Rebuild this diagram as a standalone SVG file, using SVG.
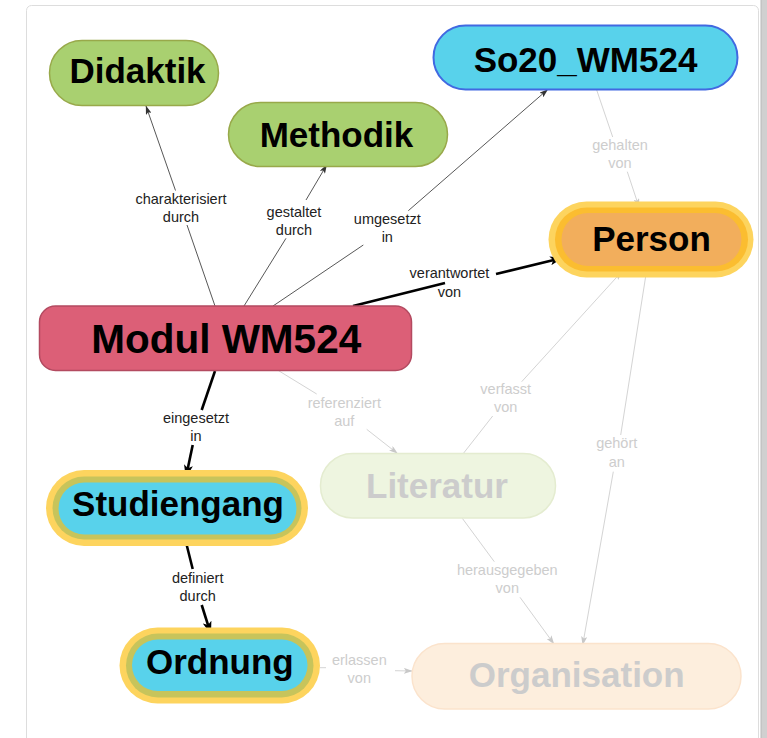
<svg xmlns="http://www.w3.org/2000/svg" width="767" height="738" viewBox="0 0 767 738">
<style>
.nt{font-family:"Liberation Sans",Arial,sans-serif;font-weight:bold;font-size:35px;text-anchor:middle;fill:#000}
.nf{fill:#cccccc}
.lb{font-family:"Liberation Sans",Arial,sans-serif;font-size:14.5px;text-anchor:middle;fill:#222}
.lf{fill:#cdcdcd}
.thin{stroke:#444;stroke-width:0.9;fill:none}
.bold{stroke:#000;stroke-width:2.6;fill:none}
.faint{stroke:#d4d4d4;stroke-width:1;fill:none}
</style>
<defs>
<marker id="aThin" markerUnits="userSpaceOnUse" markerWidth="9" markerHeight="6" viewBox="0 0 9 6" refX="8.5" refY="3" orient="auto"><path d="M0,0 L9,3 L0,6 L2,3 z" fill="#333"/></marker>
<marker id="aBold" markerUnits="userSpaceOnUse" markerWidth="13" markerHeight="9" viewBox="0 0 13 9" refX="12" refY="4.5" orient="auto"><path d="M0,0 L13,4.5 L0,9 L3,4.5 z" fill="#000"/></marker>
<marker id="aFaint" markerUnits="userSpaceOnUse" markerWidth="9" markerHeight="6" viewBox="0 0 9 6" refX="8.5" refY="3" orient="auto"><path d="M0,0 L9,3 L0,6 L2,3 z" fill="#c8c8c8"/></marker>
</defs>
<rect x="0" y="0" width="767" height="738" fill="#ffffff"/>
<rect x="26.5" y="5.5" width="732" height="745" rx="5" fill="#ffffff" stroke="#dddddd" stroke-width="1"/>
<rect x="761" y="0" width="6" height="738" fill="#d0d0d0"/>
<line x1="761" y1="0" x2="761" y2="738" stroke="#b8b8b8" stroke-width="1"/>

<g id="connectors">
  <path class="thin" d="M215,306 L187,225"/>
  <path class="thin" d="M175.5,190.5 L146,106" marker-end="url(#aThin)"/>
  <path class="thin" d="M244,306 L286,238.3"/>
  <path class="thin" d="M306,200 L326.7,165" marker-end="url(#aThin)"/>
  <path class="thin" d="M273,306 L363.3,245"/>
  <path class="thin" d="M408.3,210.7 L547.7,89.5" marker-end="url(#aThin)"/>
  <path class="bold" d="M353,306 L445,283"/>
  <path class="bold" d="M496,274 L562,258" marker-end="url(#aBold)"/>
  <path class="bold" d="M215,371 L201.7,410"/>
  <path class="bold" d="M192.7,445 L186,477" marker-end="url(#aBold)"/>
  <path class="bold" d="M185.7,541 L192.7,569"/>
  <path class="bold" d="M201.7,605 L210.7,633.5" marker-end="url(#aBold)"/>
  <path class="faint" d="M278.3,370.5 L316.7,394"/>
  <path class="faint" d="M366.7,429.3 L397.5,453.5" marker-end="url(#aFaint)"/>
  <path class="faint" d="M463.3,453.5 L492.7,416"/>
  <path class="faint" d="M521.7,381.7 L621.7,271.7" marker-end="url(#aFaint)"/>
  <path class="faint" d="M647,268 L620.7,435"/>
  <path class="faint" d="M613.3,471.7 L582.7,645" marker-end="url(#aFaint)"/>
  <path class="faint" d="M462.3,518.3 L494.3,561.7"/>
  <path class="faint" d="M520,597.3 L554,644" marker-end="url(#aFaint)"/>
  <path class="faint" d="M596.7,90 L612.7,137"/>
  <path class="faint" d="M627.3,171.7 L639,207" marker-end="url(#aFaint)"/>
  <path class="faint" d="M320,667.7 L326,667.7"/>
  <path class="faint" d="M395,670.7 L412.3,671" marker-end="url(#aFaint)"/>

  <text class="lb" x="181" y="203.5">charakterisiert</text>
  <text class="lb" x="181" y="221.8">durch</text>
  <text class="lb" x="294" y="216.5">gestaltet</text>
  <text class="lb" x="294" y="235">durch</text>
  <text class="lb" x="387.3" y="224">umgesetzt</text>
  <text class="lb" x="387.3" y="242.3">in</text>
  <text class="lb" x="449.5" y="278.3">verantwortet</text>
  <text class="lb" x="449.5" y="296.7">von</text>
  <text class="lb" x="196" y="422.7">eingesetzt</text>
  <text class="lb" x="196" y="440.7">in</text>
  <text class="lb" x="197.7" y="582.7">definiert</text>
  <text class="lb" x="197.7" y="600.7">durch</text>
  <text class="lb lf" x="344.3" y="407.5">referenziert</text>
  <text class="lb lf" x="344.3" y="425.5">auf</text>
  <text class="lb lf" x="505.7" y="394">verfasst</text>
  <text class="lb lf" x="505.7" y="412.3">von</text>
  <text class="lb lf" x="616.7" y="448.3">gehört</text>
  <text class="lb lf" x="616.7" y="466.7">an</text>
  <text class="lb lf" x="507.3" y="575">herausgegeben</text>
  <text class="lb lf" x="507.3" y="593.3">von</text>
  <text class="lb lf" x="620" y="150">gehalten</text>
  <text class="lb lf" x="620" y="168.3">von</text>
  <text class="lb lf" x="359.3" y="665">erlassen</text>
  <text class="lb lf" x="359.3" y="683.3">von</text>
</g>

<g id="didaktik">
  <rect x="49.5" y="40.5" width="169" height="65" rx="32.5" fill="#a9d070" stroke="#98a94a" stroke-width="1.5"/>
  <text class="nt" x="137.5" y="83.3">Didaktik</text>
</g>
<g id="methodik">
  <rect x="228.5" y="102.5" width="219" height="64" rx="32" fill="#a9d070" stroke="#98a94a" stroke-width="1.5"/>
  <text class="nt" x="336.5" y="146.7">Methodik</text>
</g>
<g id="so20">
  <rect x="433.5" y="25.5" width="304" height="64" rx="32" fill="#58d2eb" stroke="#4169e1" stroke-width="2"/>
  <text class="nt" x="585.5" y="71.7">So20_WM524</text>
</g>
<g id="person">
  <rect x="548.5" y="201.5" width="205" height="76" rx="38" fill="#fdd45e"/>
  <rect x="555" y="207.5" width="193" height="64" rx="32" fill="#fbbd30"/>
  <rect x="561.5" y="213" width="180" height="53" rx="26.5" fill="#f2ae5c"/>
  <text class="nt" x="651.5" y="251">Person</text>
</g>
<g id="modul">
  <rect x="39.5" y="306" width="372" height="64.5" rx="16" fill="#dc5f77" stroke="#b34a60" stroke-width="1.5"/>
  <text class="nt" x="226.2" y="353.3" style="font-size:40.5px">Modul WM524</text>
</g>
<g id="studiengang">
  <rect x="46" y="470" width="262" height="76" rx="38" fill="#fdd45e"/>
  <rect x="52.5" y="476.5" width="249" height="63" rx="31.5" fill="#c7c45b"/>
  <rect x="58.5" y="482.5" width="238" height="52" rx="26" fill="#58d2eb"/>
  <text class="nt" x="178" y="516">Studiengang</text>
</g>
<g id="ordnung">
  <rect x="119.5" y="627.5" width="200.5" height="76" rx="38" fill="#fdd45e"/>
  <rect x="126" y="633.5" width="187.5" height="64" rx="32" fill="#c7c45b"/>
  <rect x="132" y="639.5" width="175.5" height="51.5" rx="25.75" fill="#58d2eb"/>
  <text class="nt" x="219.8" y="674">Ordnung</text>
</g>
<g id="literatur">
  <rect x="320.5" y="453.5" width="235" height="64.5" rx="32" fill="#eef5e0" stroke="#e4ecd0" stroke-width="1.5"/>
  <text class="nt nf" x="437" y="497.7">Literatur</text>
</g>
<g id="organisation">
  <rect x="412" y="643.5" width="329" height="65.5" rx="32.75" fill="#fdeedd" stroke="#fbe3cc" stroke-width="1.5"/>
  <text class="nt nf" x="576.7" y="687.3">Organisation</text>
</g>
</svg>
